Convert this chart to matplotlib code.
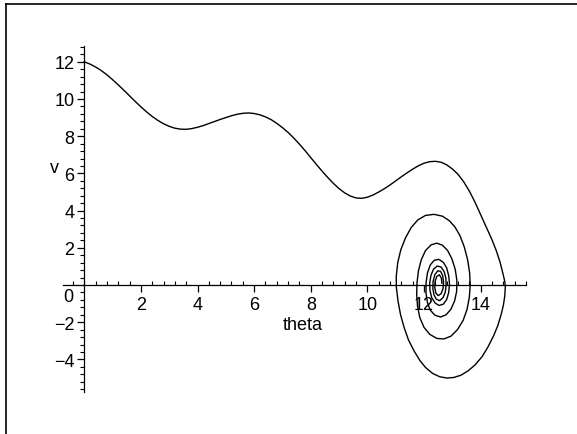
import numpy as np
import matplotlib.pyplot as plt
from matplotlib.lines import Line2D
from matplotlib.ticker import MultipleLocator

plt.rcParams['font.family'] = ['Liberation Sans', 'DejaVu Sans']

# trajectory of the damped pendulum (theta, v)
theta = [0.0, 0.2, 0.4, 0.6, 0.8, 1.0, 1.2, 1.4, 1.6, 1.8, 2.0, 2.2, 2.4, 2.6, 2.8, 3.0,
         3.2, 3.4, 3.6, 3.8, 4.0, 4.2, 4.4, 4.6, 4.8, 5.0, 5.2, 5.4, 5.6, 5.8, 6.0, 6.2,
         6.4, 6.6, 6.8, 7.0, 7.2, 7.4, 7.6, 7.8, 8.0, 8.2, 8.4, 8.6, 8.8, 9.0, 9.2, 9.4,
         9.6, 9.8, 10.0, 10.2, 10.4, 10.6, 10.8, 11.0, 11.2, 11.4, 11.6, 11.8, 12.0, 12.2,
         12.4, 12.6, 12.8, 13.0, 13.2, 13.4, 13.6, 13.8, 14.0, 14.2, 14.4, 14.55, 14.68,
         14.78, 14.85, 14.87, 14.85, 14.8, 14.72, 14.6, 14.45, 14.25, 14.05, 13.8, 13.55,
         13.3, 13.05, 12.8, 12.55, 12.3, 12.05, 11.85, 11.65, 11.45, 11.3, 11.17, 11.08,
         11.02, 11.02, 11.07, 11.18, 11.35, 11.55, 11.78, 12.05, 12.35, 12.65, 12.9, 13.1,
         13.27, 13.42, 13.54, 13.61, 13.63, 13.6, 13.52, 13.38, 13.18, 12.95, 12.7, 12.45,
         12.2, 12.0, 11.85, 11.77, 11.74, 11.75, 11.8, 11.9, 12.05, 12.25, 12.45, 12.65,
         12.83, 12.98, 13.1, 13.16, 13.15, 13.08, 12.95, 12.78, 12.58, 12.38, 12.22, 12.12,
         12.07, 12.07, 12.12, 12.22, 12.36, 12.52, 12.68, 12.8, 12.87, 12.9, 12.87, 12.8,
         12.68, 12.53, 12.39, 12.27, 12.21, 12.2, 12.24, 12.33, 12.46, 12.6, 12.71, 12.77,
         12.78, 12.75, 12.67, 12.55, 12.43, 12.35, 12.31, 12.32, 12.38, 12.48, 12.58, 12.66,
         12.69, 12.67, 12.6, 12.5, 12.42, 12.38, 12.39, 12.45, 12.54, 12.61, 12.63]
v = [12.0, 11.88, 11.72, 11.53, 11.3, 11.04, 10.76, 10.47, 10.17, 9.87, 9.58, 9.31, 9.06,
     8.85, 8.67, 8.53, 8.43, 8.38, 8.37, 8.41, 8.48, 8.57, 8.68, 8.79, 8.9, 9.0, 9.1, 9.18,
     9.23, 9.25, 9.22, 9.15, 9.04, 8.89, 8.69, 8.46, 8.2, 7.9, 7.57, 7.22, 6.85, 6.48, 6.12,
     5.78, 5.46, 5.18, 4.95, 4.78, 4.68, 4.66, 4.72, 4.84, 5.0, 5.18, 5.38, 5.6, 5.82, 6.03,
     6.23, 6.41, 6.55, 6.63, 6.65, 6.6, 6.46, 6.24, 5.95, 5.55, 5.05, 4.45, 3.78, 3.1, 2.43,
     1.85, 1.25, 0.65, 0.2, -0.1, -0.6, -1.1, -1.6, -2.2, -2.75, -3.35, -3.85, -4.3, -4.62,
     -4.85, -4.97, -5.0, -4.93, -4.75, -4.43, -4.05, -3.55, -2.95, -2.3, -1.6, -0.85,
     -0.1, 0.5, 1.2, 1.9, 2.55, 3.1, 3.5, 3.74, 3.8, 3.7, 3.45, 3.1,
     2.65, 2.05, 1.35, 0.65, 0.0, -0.65, -1.3, -1.9, -2.4, -2.75, -2.9, -2.87,
     -2.65, -2.28, -1.75, -1.15, -0.5, 0.1, 0.75, 1.35, 1.85, 2.16, 2.25, 2.14,
     1.86, 1.42, 0.85, 0.25, -0.35, -0.85, -1.3, -1.6, -1.72, -1.62, -1.35, -0.95,
     -0.45, 0.1, 0.65, 1.08, 1.33, 1.38, 1.22, 0.92, 0.5, 0.05, -0.4, -0.78,
     -1.03, -1.1, -0.97, -0.68, -0.3, 0.1, 0.5, 0.84, 1.02, 0.97, 0.72, 0.38,
     0.0, -0.38, -0.68, -0.84, -0.76, -0.52, -0.18, 0.2, 0.55, 0.76, 0.74, 0.5,
     0.15, -0.2, -0.47, -0.57, -0.44, -0.15, 0.2, 0.46, 0.55, 0.38, 0.1]

xticks = [2, 4, 6, 8, 10, 12, 14]
yticks = [-4, -2, 2, 4, 6, 8, 10, 12]

fig = plt.figure(figsize=(5.77, 4.35), dpi=100)
ax = fig.add_axes([0.1092, 0.0966, 0.8024, 0.7954])

ax.plot(theta, v, color='black', linewidth=1.0)

ax.set_xlim(-0.75, 15.6)
ax.set_ylim(-5.75, 12.85)

# Maple style axes crossing at the origin
ax.spines['left'].set_position(('data', 0))
ax.spines['bottom'].set_position(('data', 0))
ax.spines['right'].set_visible(False)
ax.spines['top'].set_visible(False)
for s in ['left', 'bottom']:
    ax.spines[s].set_linewidth(0.9)

ax.set_xticks(xticks)
ax.set_yticks(yticks)
ax.xaxis.set_minor_locator(MultipleLocator(0.4))
ax.yaxis.set_minor_locator(MultipleLocator(0.4))
ax.tick_params(axis='x', which='major', direction='out', length=5, width=0.9, pad=3, labelsize=13)
ax.tick_params(axis='x', which='minor', direction='in', length=3, width=0.8)
ax.tick_params(axis='y', which='major', direction='out', length=5, width=0.9, pad=2, labelsize=13)
ax.tick_params(axis='y', which='minor', direction='out', length=3, width=0.8)

# zero label sits just under the x axis
ax.text(-0.4, -0.6, '0', fontsize=13, ha='right', va='center')
ax.text(7.73, -2.1, 'theta', fontsize=13, ha='center', va='center')
ax.text(-1.04, 6.34, 'v', fontsize=13, ha='center', va='center', clip_on=False)

# outer frame (top and left edge)
fig.add_artist(Line2D([0.0105, 1.0], [1 - 5.2 / 435, 1 - 5.2 / 435], color='black', linewidth=1.2))
fig.add_artist(Line2D([6 / 577, 6 / 577], [0.0, 1 - 5.2 / 435], color='black', linewidth=1.2))

plt.savefig('out.png', dpi=100)
